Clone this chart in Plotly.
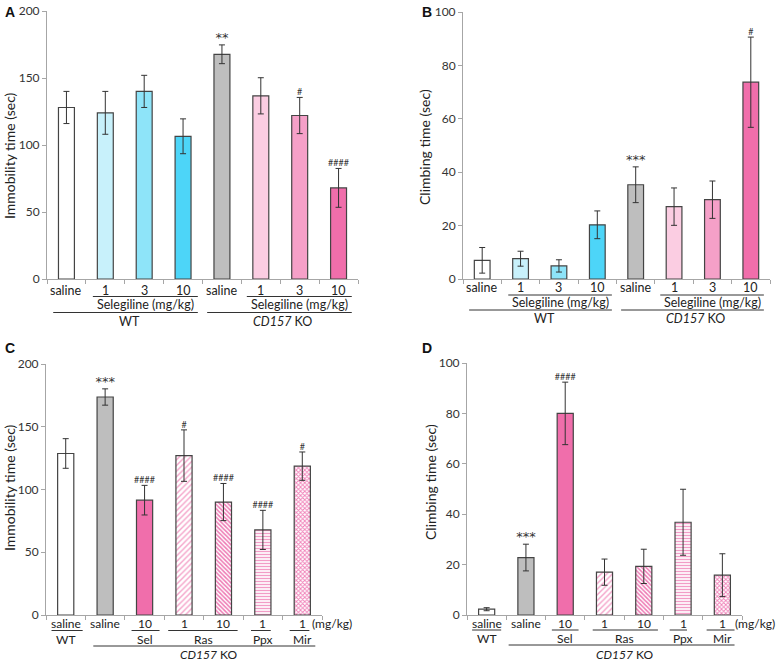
import plotly.graph_objects as go

W, H = 784, 665

# ---------------- data ----------------
A_labels = ["saline", "1", "3", "10", "saline", "1", "3", "10"]
A_vals = [128, 124, 140, 106.5, 167.7, 136.7, 122, 68]
A_errs = [12, 16, 12, 13, 7, 13.5, 13.5, 14.5]
A_sig = ["", "", "", "", "**", "", "#", "####"]

B_labels = ["saline", "1", "3", "10", "saline", "1", "3", "10"]
B_vals = [7, 7.6, 4.9, 20.3, 35.3, 27.1, 29.7, 73.7]
B_errs = [4.8, 2.8, 2.3, 5.2, 6.7, 7, 7, 16.9]
B_sig = ["", "", "", "", "***", "", "", "#"]

AB_colors = ["#FFFFFF", "#C8F1FB", "#8EE4F9", "#4DD5F8",
             "#BEBEBE", "#FBCDE2", "#F5A0C8", "#F06EAB"]

C_labels = ["saline", "saline", "10", "1", "10", "1", "1"]
C_vals = [128.7, 173.7, 91.5, 127, 90, 67.8, 118.6]
C_errs = [11.8, 6.5, 11.8, 20.5, 14.8, 15.6, 11.3]
C_sig = ["", "***", "####", "#", "####", "####", "#"]

D_labels = ["saline", "saline", "10", "1", "10", "1", "1"]
D_vals = [2.3, 22.8, 80, 17, 19.3, 36.8, 15.8]
D_errs = [0.6, 5.3, 12.4, 5.2, 6.8, 13.1, 8.5]
D_sig = ["", "***", "####", "", "", "", ""]

drug_names = ["WT", "Sel", "Ras", "Ppx", "Mir"]
drug_pos = [0, 2, 3.5, 5, 6]

CD_bg = ["#FFFFFF", "#BEBEBE", "#F06EAB", "#FFFFFF", "#FFFFFF", "#FFFFFF", "#FFFFFF"]
CD_fg = ["#FFFFFF", "#BEBEBE", "#F06EAB", "#F4A3C9", "#EE78B3", "#F29CC6", "#F080B8"]
CD_shape = ["", "", "", "/", "\\", "-", "x"]
CD_size = [6, 6, 6, 4, 3, 3, 3]
CD_solid = [0.3, 0.3, 0.3, 0.35, 0.5, 0.45, 0.5]

FONT = "Lato"
EDGE = "#444444"
AXC = "#A6A6A6"


def py(p):
    return 1 - p / H


def px(p):
    return p / W


fig = go.Figure()

panels = [
    dict(ax="", vals=A_vals, errs=A_errs, sig=A_sig, n=8, ymax=200, dtick=50,
         title="Immobility time (sec)", tpos=(9, 156), xd=(47, 358), yd=(11, 279)),
    dict(ax="2", vals=B_vals, errs=B_errs, sig=B_sig, n=8, ymax=100, dtick=20,
         title="Climbing time (sec)", tpos=(424, 147), xd=(463, 770), yd=(12, 279)),
    dict(ax="3", vals=C_vals, errs=C_errs, sig=C_sig, n=7, ymax=200, dtick=50,
         title="Immobility time (sec)", tpos=(9, 488), xd=(46, 322), yd=(364, 615)),
    dict(ax="4", vals=D_vals, errs=D_errs, sig=D_sig, n=7, ymax=100, dtick=20,
         title="Climbing time (sec)", tpos=(430, 482), xd=(467, 742), yd=(363, 615)),
]

ERR = dict(type="data", color="#333333", thickness=1, width=3)

for i, p in enumerate(panels):
    xs = list(range(p["n"]))
    xa, ya = "x" + p["ax"], "y" + p["ax"]
    if i < 2:
        fig.add_trace(go.Bar(
            x=xs, y=p["vals"], width=0.41, xaxis=xa, yaxis=ya,
            marker=dict(color=AB_colors, line=dict(color=EDGE, width=1.2)),
            error_y=dict(array=p["errs"], **ERR), showlegend=False, hoverinfo="skip"))
    else:
        for k in xs:
            mk = dict(color=CD_bg[k], line=dict(color=EDGE, width=1.2))
            if CD_shape[k]:
                mk["pattern"] = dict(shape=CD_shape[k], fgcolor=CD_fg[k], bgcolor=CD_bg[k],
                                     size=CD_size[k], solidity=CD_solid[k], fillmode="replace")
            fig.add_trace(go.Bar(
                x=[k], y=[p["vals"][k]], width=0.41, xaxis=xa, yaxis=ya, marker=mk,
                error_y=dict(array=[p["errs"][k]], **ERR), showlegend=False, hoverinfo="skip"))
    tops = [v + e for v, e in zip(p["vals"], p["errs"])]
    stars = [s if "*" in s else "" for s in p["sig"]]
    hashes = [s if "#" in s else "" for s in p["sig"]]
    fig.add_trace(go.Scatter(x=xs, y=tops, mode="text", text=stars, textposition="top center",
                             textfont=dict(family="DejaVu Sans", size=13, color="#333333"),
                             xaxis=xa, yaxis=ya, showlegend=False, hoverinfo="skip",
                             cliponaxis=False))
    fig.add_trace(go.Scatter(x=xs, y=tops, mode="text", text=hashes, textposition="top center",
                             textfont=dict(family=FONT, size=9, color="#333333"),
                             xaxis=xa, yaxis=ya, showlegend=False, hoverinfo="skip",
                             cliponaxis=False))

layout = dict(width=W, height=H, margin=dict(l=0, r=0, t=0, b=0, autoexpand=False),
              paper_bgcolor="white", plot_bgcolor="white", barmode="overlay",
              font=dict(family=FONT, size=12, color="#222222"))

for p in panels:
    n = p["n"]
    xkey, ykey = "xaxis" + p["ax"], "yaxis" + p["ax"]
    layout[xkey] = dict(domain=[px(p["xd"][0]), px(p["xd"][1])], range=[-0.5, n - 0.5],
                        anchor="y" + p["ax"], showgrid=False, zeroline=False, automargin=False,
                        showline=True, linecolor=AXC, linewidth=1,
                        tickvals=[k - 0.5 for k in range(n + 1)], ticks="outside",
                        ticklen=4, tickcolor=AXC, showticklabels=False)
    layout[ykey] = dict(domain=[py(p["yd"][1]), py(p["yd"][0])], range=[0, p["ymax"]],
                        anchor="x" + p["ax"], showgrid=False, zeroline=False, automargin=False,
                        showline=True, linecolor=AXC, linewidth=1, dtick=p["dtick"],
                        ticks="outside", ticklen=4, tickcolor=AXC,
                        tickfont=dict(size=12, color="#333333"))

fig.update_layout(**layout)

ann = []
shapes = []


def txt(xref, x, ypx, t, size=12.5, xanchor="center"):
    ann.append(dict(xref=xref, yref="paper", x=x, y=py(ypx), text=t, showarrow=False,
                    xanchor=xanchor, yanchor="middle", borderpad=0,
                    font=dict(family=FONT, size=size, color="#222222")))


def hline(xref, x0, x1, ypx):
    shapes.append(dict(type="line", xref=xref, yref="paper", x0=x0, x1=x1,
                       y0=py(ypx), y1=py(ypx), line=dict(color="#333333", width=1)))


# y-axis titles
for p in panels:
    ann.append(dict(xref="paper", yref="paper", x=px(p["tpos"][0]), y=py(p["tpos"][1]),
                    text=p["title"], textangle=-90, showarrow=False,
                    xanchor="center", yanchor="middle",
                    font=dict(family=FONT, size=14, color="#222222")))

# Panel A and B group labels
for xref, labels, yrow, yline1, ysel, yline2, ygrp, wtx, kox in [
        ("x", A_labels, 290, 296.5, 304.5, 312.5, 322, 1.63, 5.57),
        ("x2", B_labels, 287, 295, 302.5, 310, 318.5, 1.63, 5.57)]:
    for k, lab in enumerate(labels):
        txt(xref, k, yrow, lab)
    hline(xref, 0.68, 3.38, yline1)
    hline(xref, 4.64, 7.34, yline1)
    txt(xref, 2.03, ysel, "Selegiline (mg/kg)")
    txt(xref, 5.99, ysel, "Selegiline (mg/kg)")
    hline(xref, -0.34, 3.38, yline2)
    hline(xref, 3.62, 7.34, yline2)
    txt(xref, wtx, ygrp, "WT")
    txt(xref, kox, ygrp, "<i>CD157</i> KO")

# Panel C and D labels
for xref, labels, yrow, yul, yrow2, ykl, yko, uls, kol, mgx, kox in [
        ("x3", C_labels, 623.5, 630.5, 639, 646, 654,
         [(-0.36, 0.43), (1.67, 2.38), (2.6, 4.36), (4.7, 5.2), (5.68, 6.18)], (0.7, 6.33), 6.22, 3.61),
        ("x4", D_labels, 623, 630, 638.5, 645, 654,
         [(-0.37, 0.37), (1.66, 2.34), (2.7, 4.36), (4.66, 5.1), (5.6, 6.31)], (0.56, 6.31), 6.3, 3.52)]:
    for k, lab in enumerate(labels):
        txt(xref, k, yrow, lab, size=12)
    for a, b in uls:
        hline(xref, a, b, yul)
    for nm, pos in zip(drug_names, drug_pos):
        txt(xref, pos, yrow2, nm, size=12)
    hline(xref, kol[0], kol[1], ykl)
    txt(xref, mgx, yrow, "(mg/kg)", size=12, xanchor="left")
    txt(xref, kox, yko, "<i>CD157</i> KO", size=12)

# panel letters
for letter, x, y in [("A", 3, 12), ("B", 420, 12), ("C", 3, 348), ("D", 420, 348)]:
    ann.append(dict(xref="paper", yref="paper", x=px(x), y=py(y), text="<b>%s</b>" % letter,
                    showarrow=False, xanchor="left", yanchor="middle",
                    font=dict(family="Liberation Sans", size=14, color="#111111")))

fig.update_layout(annotations=ann, shapes=shapes)
fig.write_html("out.html", config={"displayModeBar": False},
               post_script="document.body.style.margin='0';document.body.style.overflow='hidden';")
